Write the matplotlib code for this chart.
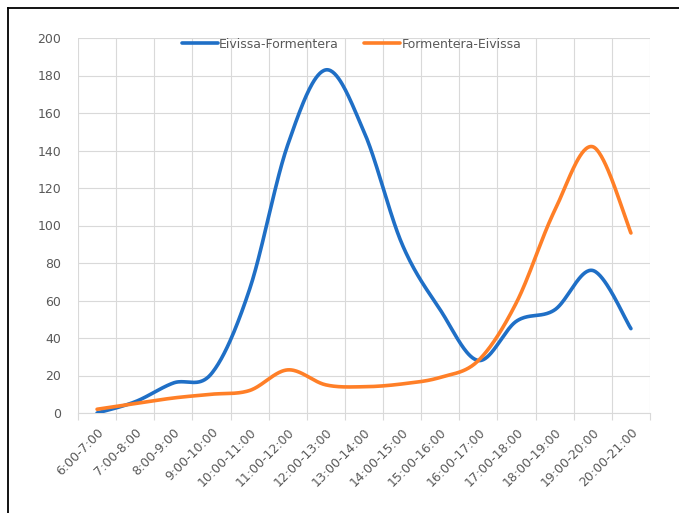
import numpy as np
import matplotlib
matplotlib.use("Agg")
import matplotlib.pyplot as plt
from matplotlib.lines import Line2D

categories = ["6:00-7:00", "7:00-8:00", "8:00-9:00", "9:00-10:00", "10:00-11:00",
              "11:00-12:00", "12:00-13:00", "13:00-14:00", "14:00-15:00", "15:00-16:00",
              "16:00-17:00", "17:00-18:00", "18:00-19:00", "19:00-20:00", "20:00-21:00"]
eivissa_formentera = [0, 6, 16, 21, 66, 143, 183, 150, 90, 55, 28, 49, 55, 76, 45]
formentera_eivissa = [2, 5, 8, 10, 12, 23, 15, 14, 15.5, 19, 28, 59, 108, 142, 96]
y_ticks = [0, 20, 40, 60, 80, 100, 120, 140, 160, 180, 200]

BLUE = "#1F6FC6"
ORANGE = "#FF7F27"
GRID = "#D9D9D9"
TXT = "#595959"


def smooth(xs, ys, n=40):
    xs = np.asarray(xs, float)
    ys = np.asarray(ys, float)
    P = np.column_stack([xs, ys])
    out = [P[0]]
    m = len(P)
    for i in range(m - 1):
        p0 = P[i - 1] if i > 0 else P[i]
        p1 = P[i]
        p2 = P[i + 1]
        p3 = P[i + 2] if i + 2 < m else P[i + 1]
        c1 = p1 + (p2 - p0) / 6.0
        c2 = p2 - (p3 - p1) / 6.0
        t = np.linspace(0, 1, n)[1:, None]
        seg = ((1 - t) ** 3) * p1 + 3 * ((1 - t) ** 2) * t * c1 + 3 * (1 - t) * t ** 2 * c2 + t ** 3 * p2
        out.extend(seg)
    out = np.array(out)
    return out[:, 0], out[:, 1]


fig = plt.figure(figsize=(6.79, 5.13), dpi=100)
ax = fig.add_axes([78 / 679, 1 - 413 / 513, 572 / 679, 375 / 513])

x = np.arange(len(categories))
for vals, col, lab in [(eivissa_formentera, BLUE, "Eivissa-Formentera"),
                       (formentera_eivissa, ORANGE, "Formentera-Eivissa")]:
    sx, sy = smooth(x, vals)
    ax.plot(sx, sy, color=col, lw=2.6, label=lab, solid_capstyle="round", zorder=3)

ax.set_xlim(-0.5, len(categories) - 0.5)
ax.set_ylim(0, 200)
ax.set_yticks(y_ticks)
ax.set_yticklabels([str(v) for v in y_ticks])
ax.set_xticks(x)
ax.set_xticklabels(categories, rotation=45, ha="right", rotation_mode="anchor")
ax.set_xticks(np.arange(len(categories) + 1) - 0.5, minor=True)

ax.tick_params(axis="y", length=0, pad=12, labelsize=9, labelcolor=TXT)
ax.tick_params(axis="x", which="major", length=0, pad=9, labelsize=9, labelcolor=TXT)
ax.tick_params(axis="x", which="minor", length=5, width=0.8, color=GRID)

ax.grid(True, which="minor", axis="x", color=GRID, lw=0.8, zorder=0)
ax.grid(True, which="major", axis="y", color=GRID, lw=0.8, zorder=0)
ax.set_axisbelow(True)
for s in ["top", "right", "left"]:
    ax.spines[s].set_visible(False)
ax.spines["bottom"].set_color(GRID)
ax.spines["bottom"].set_linewidth(0.8)

leg = ax.legend(loc="center", bbox_to_anchor=(0.478, 0.984), ncol=2, frameon=False,
                fontsize=9, labelcolor=TXT, handlelength=2.9, handletextpad=0.1,
                columnspacing=2.0, borderaxespad=0)

# outer frame lines (left and top) of the screenshot
fig.add_artist(Line2D([7.5 / 679, 7.5 / 679], [0, 1 - 7.5 / 513], color="black", lw=1.3,
                      transform=fig.transFigure))
fig.add_artist(Line2D([7.5 / 679, 1], [1 - 7.5 / 513, 1 - 7.5 / 513], color="black", lw=1.3,
                      transform=fig.transFigure))

fig.savefig("out.png", dpi=100)
